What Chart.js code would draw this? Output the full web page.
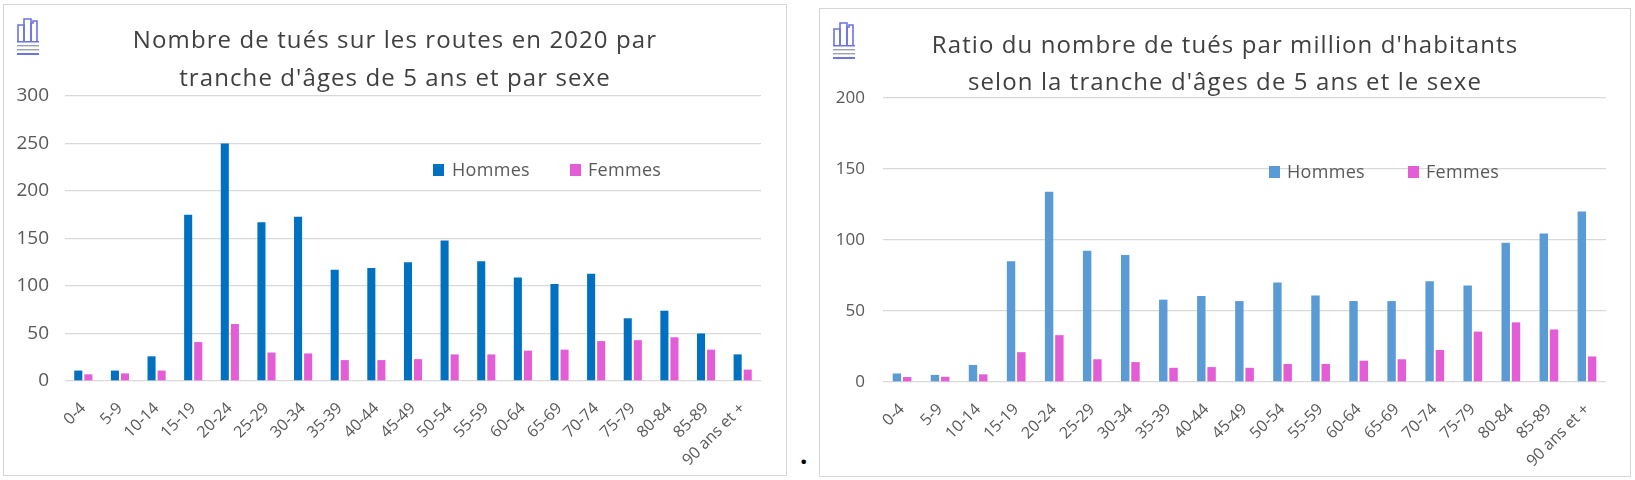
<!DOCTYPE html>
<html><head><meta charset="utf-8">
<script src="https://cdn.jsdelivr.net/npm/chart.js@4"></script>
<style>
body{margin:0;background:#fff;width:1635px;height:480px;position:relative;overflow:hidden;font-family:'Open Sans',sans-serif}
.panel{position:absolute;border:1px solid #d6d6d6;background:#fff;box-sizing:border-box}
#p1{left:3px;top:4px;width:784px;height:472px}
#p2{left:819px;top:8px;width:812px;height:469px}
canvas{position:absolute;left:0;top:0}
.logo{position:absolute}
#dot{position:absolute;left:800px;top:441px;font-size:26px;font-weight:bold;color:#000;line-height:1}
</style></head>
<body>
<div class="panel" id="p1"><canvas id="c1" width="782" height="470"></canvas></div>
<div class="panel" id="p2"><canvas id="c2" width="810" height="467"></canvas></div>
<svg class="logo" style="left:14px;top:15px" width="29" height="41" viewBox="0 0 29 41">
 <g fill="none" stroke="#6b74e4" stroke-width="1.6">
  <path d="M4 26 V10 H10 V26"/><path d="M10 26 V4 H17 V26"/><path d="M17 26 V8 H19 V6 H23 V26"/>
 </g>
 <rect x="3" y="26" width="22" height="1.5" fill="#6b74e4"/>
 <rect x="3" y="30" width="22" height="1.4" fill="#9aa0b0"/>
 <rect x="3" y="34" width="22" height="1.4" fill="#9aa0b0"/>
 <rect x="3" y="38" width="22" height="2" fill="#6b74e4"/>
</svg>
<svg class="logo" style="left:829px;top:19px" width="31" height="41" viewBox="0 0 29 41">
 <g fill="none" stroke="#6b74e4" stroke-width="1.6">
  <path d="M4 26 V10 H10 V26"/><path d="M10 26 V4 H17 V26"/><path d="M17 26 V8 H19 V6 H23 V26"/>
 </g>
 <rect x="3" y="26" width="22" height="1.5" fill="#6b74e4"/>
 <rect x="3" y="30" width="22" height="1.4" fill="#9aa0b0"/>
 <rect x="3" y="34" width="22" height="1.4" fill="#9aa0b0"/>
 <rect x="3" y="38" width="22" height="2" fill="#6b74e4"/>
</svg>
<div id="dot">.</div>
<script>
const categories = ['0-4','5-9','10-14','15-19','20-24','25-29','30-34','35-39','40-44','45-49','50-54','55-59','60-64','65-69','70-74','75-79','80-84','85-89','90 ans et +'];
const tuesHommes = [11, 11, 26, 175, 250, 167, 173, 117, 119, 125, 148, 126, 109, 102, 113, 66, 74, 50, 28];
const tuesFemmes = [7, 8, 11, 41, 60, 30, 29, 22, 22, 23, 28, 28, 32, 33, 42, 43, 46, 33, 12];
const ratioHommes = [6, 5, 12, 85, 134, 92.5, 89.5, 58, 60.5, 57, 70, 61, 57, 57, 71, 68, 98, 104.5, 120];
const ratioFemmes = [3.5, 3.7, 5.4, 21, 33, 16, 14, 10, 10.5, 10, 12.7, 12.7, 15, 16, 22.5, 35.5, 42, 37, 18];
const title1 = ['Nombre de tués sur les routes en 2020 par', "tranche d'âges de 5 ans et par sexe"];
const title2 = ["Ratio du nombre de tués par million d'habitants", "selon la tranche d'âges de 5 ans et le sexe"];
const seriesNames = ['Hommes', 'Femmes'];

const FONT = "'Open Sans', sans-serif";
const panelText = {
  id: 'panelText',
  afterDatasetsDraw(chart, args, o) {
    const ctx = chart.ctx;
    ctx.save();
    ctx.fillStyle = '#404040';
    ctx.font = '24px ' + FONT;
    ctx.letterSpacing = '1.1px';
    ctx.textAlign = 'center';
    ctx.textBaseline = 'alphabetic';
    o.title.forEach((t, i) => ctx.fillText(t, o.titleX, o.titleY[i]));
    ctx.letterSpacing = '0.3px';
    ctx.font = '18px ' + FONT;
    ctx.textAlign = 'left';
    chart.data.datasets.forEach((ds, i) => {
      ctx.fillStyle = ds.backgroundColor;
      ctx.fillRect(o.legX[i], o.legY - 12, 11, 12);
      ctx.fillStyle = '#595959';
      ctx.fillText(ds.label, o.legTX[i], o.legY);
    });
    ctx.restore();
  }
};

function makeChart(id, h, f, colors, ymax, cfg) {
  return new Chart(document.getElementById(id), {
    type: 'bar',
    data: {
      labels: categories,
      datasets: [
        { label: seriesNames[0], data: h, backgroundColor: colors[0], categoryPercentage: cfg.cat, barPercentage: cfg.bar },
        { label: seriesNames[1], data: f, backgroundColor: colors[1], categoryPercentage: cfg.cat, barPercentage: cfg.bar }
      ]
    },
    options: {
      responsive: false, animation: false, devicePixelRatio: 1,
      layout: { padding: { left: 0, right: cfg.padRight, top: cfg.top, bottom: 0 } },
      plugins: { legend: { display: false }, title: { display: false }, tooltip: { enabled: false },
        panelText: cfg.text },
      scales: {
        x: {
          grid: { display: false }, border: { display: false },
          ticks: { autoSkip: false, maxRotation: 45, minRotation: 45, padding: cfg.xpad, color: '#595959', font: { family: FONT, size: 16 } },
          afterFit(s) { s.height = cfg.xh; }
        },
        y: {
          min: 0, max: ymax,
          grid: { color: '#d9d9d9', lineWidth: 1.3, drawTicks: false }, border: { display: false },
          ticks: { stepSize: 50, padding: cfg.ypad, color: '#595959', font: { family: FONT, size: cfg.yfs } },
          afterFit(s) { s.width = cfg.yw; }
        }
      }
    },
    plugins: [panelText]
  });
}

makeChart('c1', tuesHommes, tuesFemmes, ['#0070c0', '#e35dd6'], 300, {
  cat: 0.55, bar: 0.8, padRight: 25, top: 91, xh: 94, yw: 61, xpad: 10, ypad: 16, yfs: 19,
  text: { title: title1, titleX: 391, titleY: [43, 81], legX: [429, 566], legTX: [448, 584], legY: 171 }
});
makeChart('c2', ratioHommes, ratioFemmes, ['#5b9bd5', '#e35dd6'], 200, {
  cat: 0.54, bar: 0.82, padRight: 24, top: 89, xh: 94, yw: 63, xpad: 10, ypad: 18, yfs: 17,
  text: { title: title2, titleX: 405, titleY: [44, 81], legX: [449, 588], legTX: [467, 606], legY: 169 }
});
</script>
</body></html>
